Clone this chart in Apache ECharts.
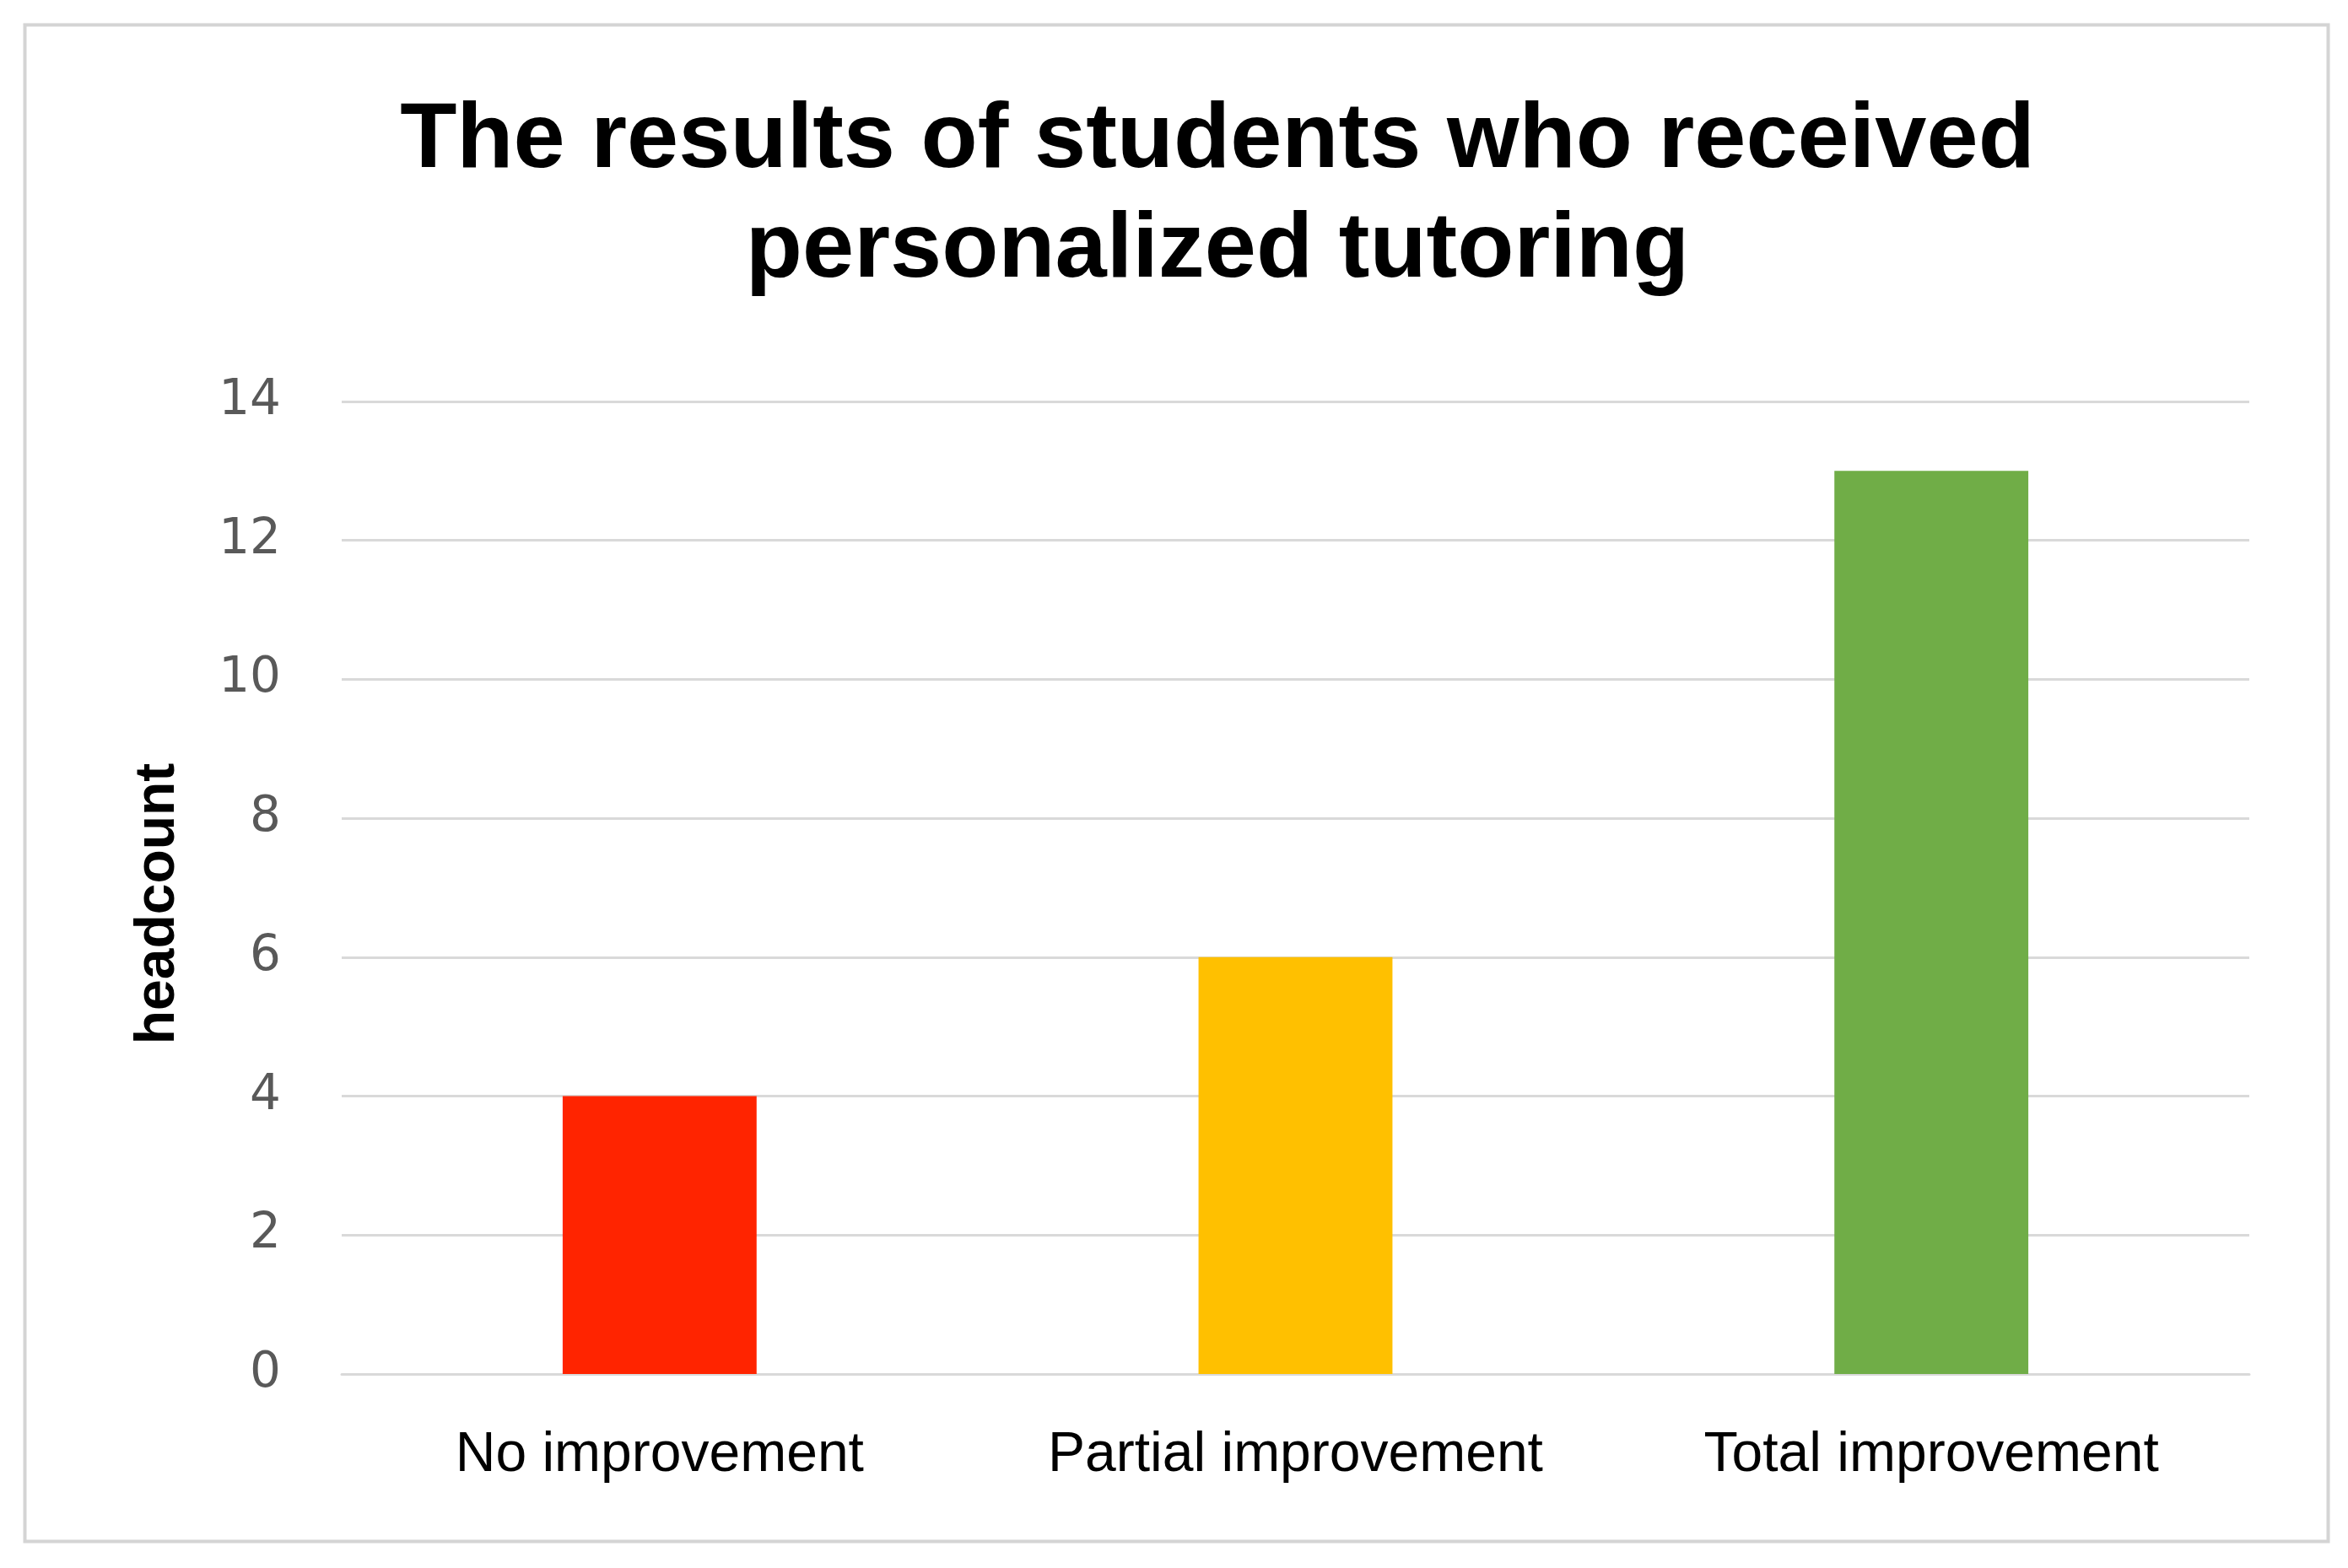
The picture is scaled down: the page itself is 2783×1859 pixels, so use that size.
<!DOCTYPE html>
<html>
<head>
<meta charset="utf-8">
<script src="https://cdn.jsdelivr.net/npm/echarts@6/dist/echarts.min.js"></script>
<style>
  html, body { margin: 0; padding: 0; background: #fff; }
  #chart { width: 2783px; height: 1859px; }
</style>
</head>
<body>
<div id="chart"></div>
<script>
const categories = ["No improvement", "Partial improvement", "Total improvement"];
const headcounts = [4, 6, 13];
const barColors = ["#FF2400", "#FFC000", "#70AD47"];
const titleLines = ["The results of students who received", "personalized tutoring"];
const yTicks = [0, 14, 2];

const renderChart = (echarts, option, ref) => {
  const myChart = echarts.init(ref);
  myChart.setOption(option, true);
  window.onresize = function () {
    myChart.resize();
  };
};

const option = {
  backgroundColor: "#ffffff",
  animation: false,
  title: {
    text: titleLines.join("\n"),
    left: 1438,
    top: 98,
    textAlign: "center",
    textStyle: {
      fontFamily: "Liberation Sans",
      fontWeight: "bold",
      fontSize: 110,
      lineHeight: 130,
      color: "#000000",
    },
  },
  graphic: [
    {
      type: "rect",
      left: 27,
      top: 27,
      shape: { width: 2730, height: 1798 },
      style: { fill: null, stroke: "#d4d4d4", lineWidth: 4 },
      silent: true,
    },
  ],
  grid: { left: 405, right: 117, top: 476, bottom: 230, containLabel: false },
  xAxis: {
    type: "category",
    data: categories,
    axisTick: { show: false },
    axisLine: { lineStyle: { color: "#d9d9d9", width: 3 } },
    axisLabel: {
      interval: 0,
      margin: 64,
      fontFamily: "Liberation Sans",
      fontSize: 66,
      color: "#000000",
    },
  },
  yAxis: {
    type: "value",
    min: yTicks[0],
    max: yTicks[1],
    interval: yTicks[2],
    name: "headcount",
    nameLocation: "middle",
    nameGap: 184,
    nameRotate: 90,
    nameTextStyle: {
      fontFamily: "Liberation Sans",
      fontWeight: "bold",
      fontSize: 66,
      color: "#000000",
      padding: [0, 38, 0, 0],
    },
    axisLine: { show: false },
    axisTick: { show: false },
    axisLabel: {
      margin: 72,
      fontFamily: "DejaVu Sans",
      fontSize: 58,
      color: "#595959",
      padding: [6, 0, 0, 0],
    },
    splitLine: { lineStyle: { color: "#d9d9d9", width: 3 } },
  },
  series: [
    {
      type: "bar",
      barWidth: "30.5%",
      data: headcounts.map((v, i) => ({ value: v, itemStyle: { color: barColors[i] } })),
    },
  ],
};

renderChart(echarts, option, document.getElementById("chart"));
</script>
</body>
</html>
